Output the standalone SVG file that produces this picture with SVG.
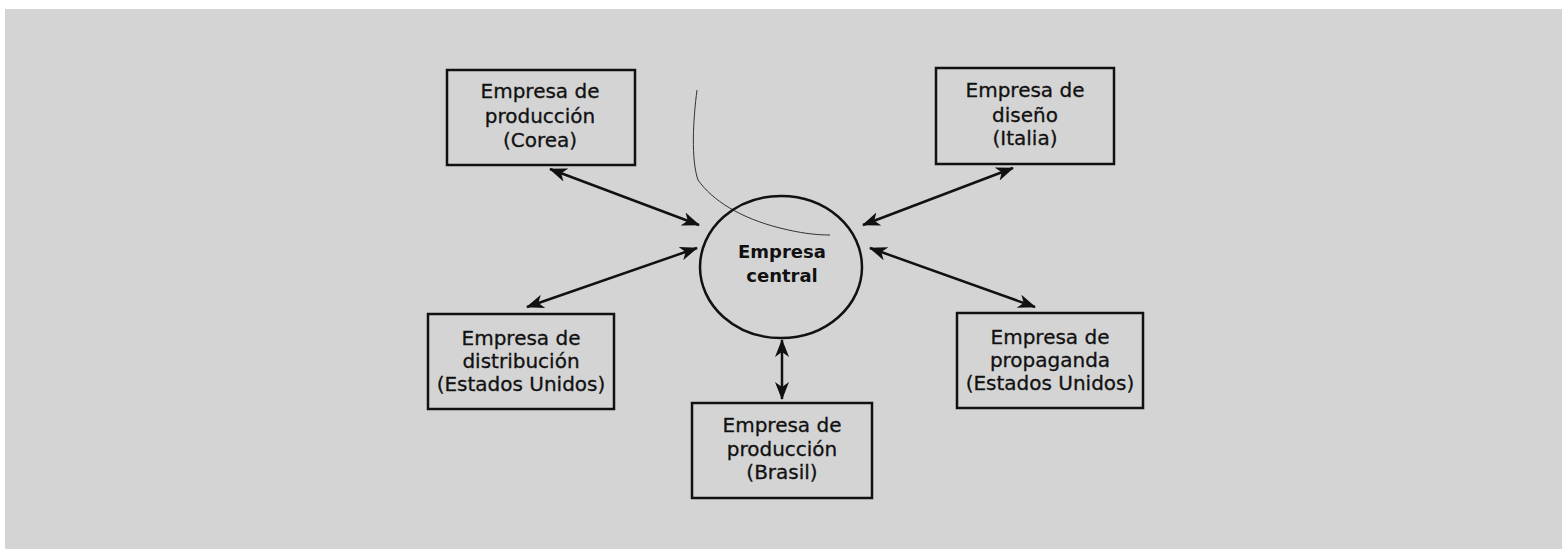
<svg xmlns="http://www.w3.org/2000/svg" width="1562" height="549" viewBox="0 0 1562 549">
<style>
.box{fill:none;stroke:#111;stroke-width:2.5}
.t{font-family:"DejaVu Sans",sans-serif;font-size:20px;fill:#111;stroke:#111;stroke-width:0.3;text-anchor:middle}
.tb{font-family:"DejaVu Sans",sans-serif;font-size:18px;font-weight:bold;fill:#111;text-anchor:middle}
.c{stroke:#111;stroke-width:2.5;fill:none;marker-start:url(#ah);marker-end:url(#ah)}
</style>
<defs>
<marker id="ah" viewBox="0 0 18 14" refX="17" refY="7" markerWidth="18" markerHeight="14" markerUnits="userSpaceOnUse" orient="auto-start-reverse">
<path d="M0,0 L18,7 L0,14 L5,7 Z" fill="#111"/>
</marker>
</defs>
<rect x="0" y="0" width="1562" height="549" fill="#ffffff"/>
<rect x="5" y="9" width="1557" height="540" fill="#d4d4d4"/>
<path d="M697,90 C693,120 691,160 698,180 C712,200 740,218 780,228 C800,233 815,235 830,235" fill="none" stroke="#333" stroke-width="1"/>
<g id="connectors">
<line class="c" x1="550" y1="169" x2="699" y2="225"/>
<line class="c" x1="527" y1="307" x2="697" y2="248"/>
<line class="c" x1="1013" y1="168" x2="863" y2="225"/>
<line class="c" x1="870" y1="248" x2="1035" y2="307"/>
<line class="c" x1="782" y1="340" x2="782" y2="399"/>
</g>
<g id="central">
<ellipse cx="781" cy="267" rx="81" ry="71" class="box"/>
<text class="tb" x="782" y="258">Empresa</text>
<text class="tb" x="782" y="282">central</text>
</g>
<g id="corea">
<rect class="box" x="447" y="70" width="188" height="95"/>
<text class="t" x="540" y="98">Empresa de</text>
<text class="t" x="540" y="123">producción</text>
<text class="t" x="540" y="147">(Corea)</text>
</g>
<g id="italia">
<rect class="box" x="936" y="68" width="178" height="96"/>
<text class="t" x="1025" y="97">Empresa de</text>
<text class="t" x="1025" y="122">diseño</text>
<text class="t" x="1025" y="145">(Italia)</text>
</g>
<g id="distribucion">
<rect class="box" x="428" y="314" width="186" height="95"/>
<text class="t" x="521" y="345">Empresa de</text>
<text class="t" x="521" y="368">distribución</text>
<text class="t" x="521" y="391">(Estados Unidos)</text>
</g>
<g id="propaganda">
<rect class="box" x="957" y="313" width="186" height="95"/>
<text class="t" x="1050" y="344">Empresa de</text>
<text class="t" x="1050" y="367">propaganda</text>
<text class="t" x="1050" y="390">(Estados Unidos)</text>
</g>
<g id="brasil">
<rect class="box" x="692" y="403" width="180" height="95"/>
<text class="t" x="782" y="432">Empresa de</text>
<text class="t" x="782" y="456">producción</text>
<text class="t" x="782" y="479">(Brasil)</text>
</g>
</svg>
